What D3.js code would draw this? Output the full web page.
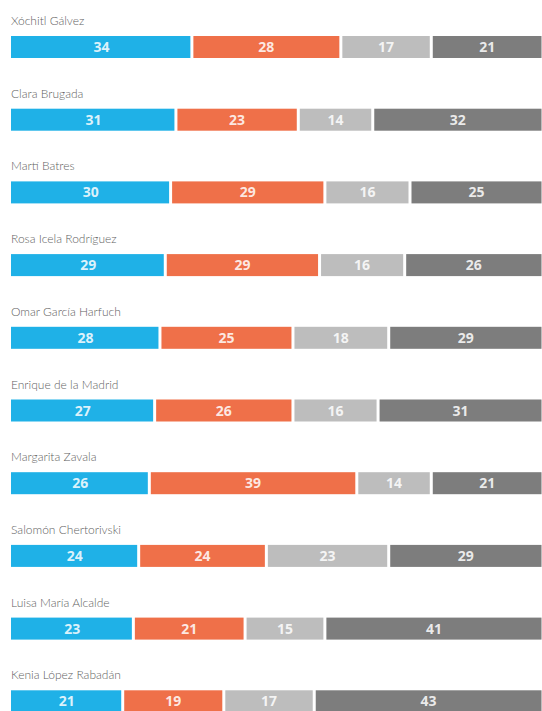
<!DOCTYPE html>
<html>
<head>
<meta charset="utf-8">
<script src="https://cdn.jsdelivr.net/npm/d3@7"></script>
<style>
	body { margin: 0; background: #fff; }
	svg { display: block; }
</style>
</head>
<body>
<div id="chart"></div>
<script>
const NAMES = [
	"Xóchitl Gálvez",
	"Clara Brugada",
	"Martí Batres",
	"Rosa Icela Rodríguez",
	"Omar García Harfuch",
	"Enrique de la Madrid",
	"Margarita Zavala",
	"Salomón Chertorivski",
	"Luisa María Alcalde",
	"Kenia López Rabadán",
];
const SERIES_BLUE = [34, 31, 30, 29, 28, 27, 26, 24, 23, 21];
const SERIES_ORANGE = [28, 23, 29, 29, 25, 26, 39, 24, 21, 19];
const SERIES_LIGHT = [17, 14, 16, 16, 18, 16, 14, 23, 15, 17];
const SERIES_DARK = [21, 32, 25, 26, 29, 31, 21, 29, 41, 43];
const COLORS = ["#1fb1e7", "#ef7049", "#bdbdbd", "#7d7d7d"];

const width = 542;
const height = 711;

const svg = d3
	.select("#chart")
	.append("svg")
	.attr("width", width)
	.attr("height", height);

const x = d3.scaleLinear().domain([0, 100]).range([11, 543]);
const y = d3
	.scaleBand()
	.domain(NAMES)
	.range([36 - 25, 36 - 25 + 72.7 * NAMES.length])
	.paddingInner(0)
	.paddingOuter(0);

const BAR_H = 22;
const GAP = 3;

const rows = NAMES.map(function (name, i) {
	const vals = [SERIES_BLUE[i], SERIES_ORANGE[i], SERIES_LIGHT[i], SERIES_DARK[i]];
	let acc = 0;
	const segs = vals.map(function (v, k) {
		const s = { start: acc, end: acc + v, value: v, k: k };
		acc += v;
		return s;
	});
	return { name: name, segs: segs };
});

const g = svg
	.selectAll("g.row")
	.data(rows)
	.join("g")
	.attr("class", "row")
	.attr("transform", function (d) {
		return "translate(0," + y(d.name) + ")";
	});

// candidate name
g.append("text")
	.text(function (d) {
		return d.name;
	})
	.attr("x", 11)
	.attr("y", 14)
	.attr("font-family", "Lato, 'Open Sans', sans-serif")
	.attr("font-weight", 300)
	.attr("font-size", "12px")
	.attr("fill", "#5f5f5f");

const seg = g
	.selectAll("g.seg")
	.data(function (d) {
		return d.segs;
	})
	.join("g")
	.attr("class", "seg");

seg.append("rect")
	.attr("x", function (d) {
		return x(d.start) + (d.k > 0 ? GAP / 2 : 0);
	})
	.attr("y", 25)
	.attr("width", function (d) {
		return x(d.end) - x(d.start) - (d.k > 0 ? GAP : GAP / 2);
	})
	.attr("height", BAR_H)
	.attr("fill", function (d) {
		return COLORS[d.k];
	});

seg.append("text")
	.text(function (d) {
		return d.value;
	})
	.attr("x", function (d) {
		return (x(d.start) + x(d.end)) / 2;
	})
	.attr("y", 25 + BAR_H / 2 + 5)
	.attr("text-anchor", "middle")
	.attr("font-family", "'Open Sans', sans-serif")
	.attr("font-weight", "bold")
	.attr("font-size", "14px")
	.attr("fill", "#fff")
	.attr("fill-opacity", 0.85);
</script>
</body>
</html>
